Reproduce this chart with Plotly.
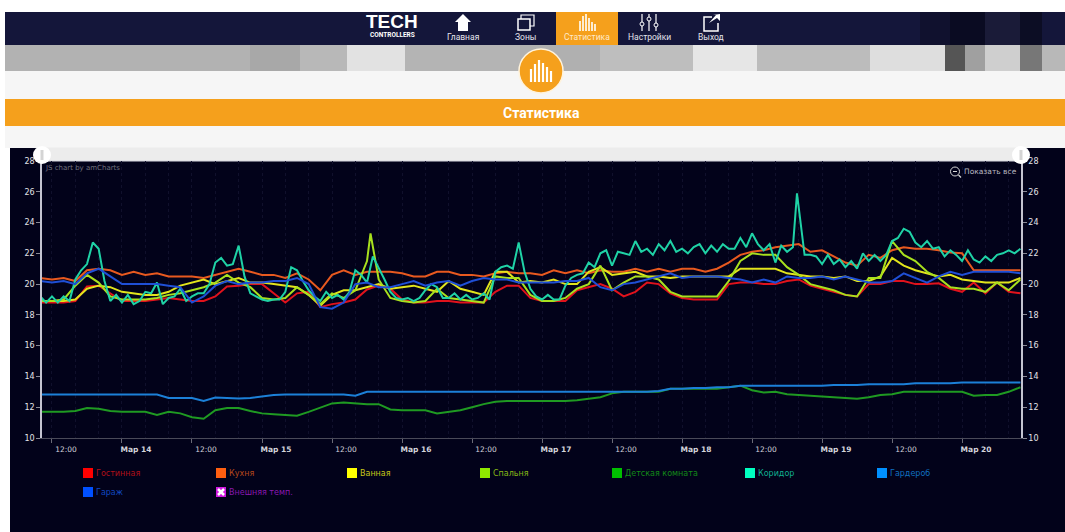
import pandas as pd
import plotly.graph_objects as go

W, H = 1065, 532
START = pd.Timestamp("2019-03-14")

HOURS_2H = list(range(-14, 155, 2))
HOURS_KORIDOR = [115.7 if h == 116 else h for h in range(-14, 155, 1)]
HOURS_SPALNYA = sorted(HOURS_2H + [42.6])

NAMES = ["Гостинная", "Кухня", "Ванная", "Спальня", "Детская комната", "Коридор", "Гардероб", "Гараж"]
OUTDOOR_NAME = "Внешняя темп."

GOSTINAYA = [
    18.8, 18.8, 18.8, 18.9, 19.85, 19.9, 19.4, 18.9, 18.9, 18.9,
    19.0, 19.1, 19.0, 18.9, 18.9, 19.2, 19.85, 19.9, 20.0, 20.0,
    19.4, 18.8, 19.4, 19.5, 18.5, 18.7, 18.8, 19.0, 19.65, 19.9,
    19.7, 19.0, 18.8, 18.8, 18.9, 18.9, 18.8, 18.8, 18.8, 19.5,
    19.9, 19.9, 19.1, 18.9, 18.9, 18.9, 19.6, 19.8, 20.0, 19.7,
    19.2, 19.5, 20.1, 20.0, 19.4, 19.1, 19.0, 19.0, 19.0, 20.0,
    20.1, 20.1, 20.0, 20.0, 20.2, 20.3, 19.9, 19.7, 19.5, 19.3,
    19.2, 20.0, 20.0, 20.2, 20.2, 20.0, 20.0, 20.05, 19.7, 19.5,
    20.1, 19.4, 20.1, 19.5, 19.4,
]
KUKHNYA = [
    20.4, 20.3, 20.4, 20.2, 20.9, 21.0, 20.9, 20.6, 20.8, 20.6,
    20.7, 20.5, 20.5, 20.5, 20.4, 20.6, 20.8, 21.0, 20.8, 20.6,
    20.6, 20.4, 20.7, 20.3, 19.6, 20.6, 20.9, 20.6, 20.8, 20.8,
    20.8, 20.7, 20.5, 20.5, 20.8, 20.8, 20.6, 20.6, 20.5, 20.7,
    20.8, 20.7, 20.7, 20.6, 20.9, 20.7, 20.9, 20.7, 20.9, 20.8,
    20.8, 21.0, 20.8, 21.0, 20.8, 21.0, 21.0, 20.8, 21.0, 21.4,
    21.9, 22.1, 22.2, 22.4, 22.5, 22.6, 22.1, 22.2, 21.8, 21.4,
    21.2, 21.9, 21.7, 22.2, 22.4, 22.3, 22.3, 22.2, 22.05, 22.0,
    20.9, 20.9, 20.9, 20.9, 20.9,
]
VANNAYA = [
    18.9, 18.9, 18.9, 19.0, 19.7, 19.9, 19.8, 19.5, 19.4, 19.3,
    19.3, 19.5, 19.9, 20.1, 20.3, 20.0, 20.2, 20.4, 20.1, 20.1,
    20.0, 19.9, 19.8, 19.3, 18.6, 19.3, 19.6, 19.6, 19.8, 20.0,
    19.7, 19.8, 19.9, 19.7, 19.5, 20.2, 19.7, 19.5, 19.3, 20.8,
    20.8, 20.1, 20.2, 20.1, 20.3, 20.0, 20.0, 20.8, 21.1, 20.6,
    20.7, 20.8, 20.5, 20.5, 20.4, 20.5, 20.5, 20.5, 20.5, 20.5,
    21.0, 21.0, 21.0, 21.0, 20.7, 20.6, 20.5, 20.5, 20.4, 20.5,
    20.2, 20.2, 20.5, 21.7, 21.2, 20.9, 20.7, 20.5, 20.6, 20.3,
    20.2, 20.1, 20.1, 20.1, 20.4,
]
SPALNYA = [
    18.9, 18.9, 19.0, 19.9, 20.6, 20.1, 19.2, 19.0, 19.0, 19.0,
    19.1, 19.3, 19.4, 19.6, 19.8, 20.1, 20.6, 20.1, 19.8, 19.1,
    19.0, 19.1, 19.8, 19.3, 18.7, 19.4, 19.1, 19.6, 21.5, 23.3,
    20.3, 19.1, 18.9, 18.8, 18.9, 19.7, 19.1, 19.0, 18.9, 18.8,
    20.5, 20.4, 20.4, 19.3, 18.9, 18.9, 19.1, 19.7, 20.0, 21.2,
    19.6, 20.1, 20.5, 20.5, 20.3, 19.5, 19.2, 19.2, 19.2, 19.2,
    20.2, 21.5, 22.0, 21.9, 21.9, 21.1, 20.6, 20.0, 19.8, 19.6,
    19.3, 19.2, 20.4, 20.4, 22.8, 21.9, 21.5, 20.8, 20.4, 19.8,
    19.7, 19.7, 19.5, 20.1, 19.6, 20.3,
]
DETSKAYA = [
    11.7, 11.7, 11.7, 11.75, 11.95, 11.9, 11.75, 11.7, 11.7, 11.7,
    11.5, 11.7, 11.6, 11.35, 11.25, 11.8, 11.95, 11.95, 11.75, 11.6,
    11.55, 11.5, 11.45, 11.7, 12.0, 12.25, 12.3, 12.25, 12.2, 12.2,
    11.85, 11.8, 11.8, 11.8, 11.6, 11.7, 11.8, 12.0, 12.2, 12.35,
    12.4, 12.4, 12.4, 12.4, 12.4, 12.4, 12.45, 12.55, 12.65, 12.9,
    13.0, 13.0, 13.0, 13.0, 13.2, 13.2, 13.2, 13.2, 13.2, 13.3,
    13.4, 13.1, 12.95, 13.0, 12.85, 12.8, 12.75, 12.7, 12.65, 12.6,
    12.55, 12.65, 12.8, 12.85, 13.0, 13.0, 13.0, 13.0, 13.0, 13.0,
    12.75, 12.8, 12.8, 13.0, 13.3,
]
KORIDOR = [
    19.2, 18.8, 19.2, 18.8, 19.2, 18.9, 20.3, 20.9, 21.3, 22.7,
    22.3, 20.2, 18.9, 19.3, 18.8, 19.3, 18.7, 18.9, 19.5, 19.4,
    20.1, 18.7, 19.1, 19.2, 19.7, 18.9, 19.2, 19.4, 19.4, 20.0,
    21.4, 21.7, 21.2, 21.3, 22.5, 20.5, 19.4, 19.2, 19.0, 18.9,
    19.0, 19.0, 19.5, 21.1, 20.9, 20.2, 19.6, 19.2, 18.9, 19.5,
    19.1, 19.3, 19.0, 19.5, 20.9, 20.6, 20.1, 21.8, 21.1, 20.3,
    19.5, 19.1, 19.0, 19.1, 18.9, 19.1, 19.6, 20.0, 19.8, 19.1,
    19.1, 19.4, 19.0, 19.3, 19.0, 19.1, 19.4, 19.0, 20.8, 21.1,
    21.2, 21.0, 22.7, 20.8, 19.7, 19.2, 19.0, 19.3, 19.0, 19.0,
    19.9, 20.4, 20.6, 20.7, 21.4, 21.1, 22.0, 22.2, 21.2, 22.1,
    22.0, 21.9, 22.8, 22.1, 22.3, 21.9, 22.6, 22.2, 22.8, 22.1,
    22.3, 22.0, 22.4, 22.6, 22.0, 22.5, 22.1, 22.6, 22.3, 22.3,
    23.0, 22.4, 23.3, 22.6, 22.2, 22.6, 21.4, 22.5, 22.1, 22.4,
    25.9, 21.9, 21.9, 21.8, 21.3, 21.9, 21.3, 21.6, 21.1, 21.5,
    21.0, 22.0, 21.5, 21.9, 21.5, 21.9, 22.8, 23.0, 23.6, 23.4,
    22.7, 22.4, 22.8, 22.3, 22.4, 21.8, 22.2, 21.9, 21.5, 22.2,
    21.6, 21.4, 21.8, 21.5, 21.9, 22.0, 22.2, 22.0, 22.3,
]
GARDEROB = [
    12.83, 12.83, 12.83, 12.83, 12.83, 12.83, 12.83, 12.83, 12.83, 12.83,
    12.83, 12.6, 12.6, 12.6, 12.4, 12.63, 12.6, 12.57, 12.6, 12.7,
    12.8, 12.83, 12.83, 12.83, 12.83, 12.83, 12.83, 12.75, 13.0, 13.0,
    13.0, 13.0, 13.0, 13.0, 13.0, 13.0, 13.0, 13.0, 13.0, 13.0,
    13.0, 13.0, 13.0, 13.0, 13.0, 13.0, 13.0, 13.0, 13.0, 13.0,
    13.0, 13.0, 13.0, 13.05, 13.2, 13.2, 13.25, 13.25, 13.3, 13.3,
    13.4, 13.4, 13.4, 13.4, 13.4, 13.4, 13.4, 13.4, 13.45, 13.45,
    13.45, 13.5, 13.5, 13.5, 13.5, 13.55, 13.55, 13.55, 13.55, 13.6,
    13.6, 13.6, 13.6, 13.6, 13.6,
]
GARAZH = [
    20.2, 20.1, 20.2, 20.0, 20.7, 21.0, 20.5, 20.0, 20.0, 20.0,
    20.0, 19.9, 19.8, 18.8, 19.2, 19.9, 20.2, 20.0, 20.1, 20.1,
    20.2, 20.2, 20.4, 20.0, 18.5, 18.4, 18.8, 20.0, 20.1, 19.8,
    19.8, 20.0, 20.2, 19.9, 20.1, 20.2, 19.9, 20.2, 20.4, 20.3,
    20.3, 20.1, 20.1, 20.1, 20.1, 20.2, 20.2, 20.4, 19.8, 19.6,
    20.0, 20.1, 20.3, 20.5, 20.7, 20.4, 20.5, 20.5, 20.5, 20.4,
    20.3, 20.1, 20.3, 20.1, 20.5, 20.4, 20.4, 20.5, 20.3, 20.5,
    20.3, 20.1, 20.1, 20.2, 20.7, 20.4, 20.1, 20.5, 20.8, 20.6,
    20.8, 20.8, 20.8, 20.8, 20.7,
]

LINE_COLORS = ["#e0121c", "#e8591f", "#e2e41c", "#a8e01e", "#1f9a22", "#1fd2a6", "#1c80d8", "#1f4fd6"]
SWATCH_COLORS = ["#ff0000", "#ff5f10", "#ffff00", "#8fe800", "#00c000", "#00ffc0", "#0090ff", "#0050ff"]
TEXT_COLORS = ["#b01018", "#b8481a", "#c8c818", "#86b818", "#128a18", "#10b090", "#1070c0", "#1048c0"]

Y_TICKS = [10, 12, 14, 16, 18, 20, 22, 24, 26, 28]
X_TICK_HOURS = [-12, 0, 12, 24, 36, 48, 60, 72, 84, 96, 108, 120, 132, 144]
X_TICK_TEXT = ["12:00", "<b>Мар 14</b>", "12:00", "<b>Мар 15</b>", "12:00", "<b>Мар 16</b>", "12:00",
               "<b>Мар 17</b>", "12:00", "<b>Мар 18</b>", "12:00", "<b>Мар 19</b>", "12:00", "<b>Мар 20</b>"]
NAV_LABELS = ["Главная", "Зоны", "Статистика", "Настройки", "Выход"]
NAV_X = [463, 525, 587, 649, 711]
BANNER = [(5, 250, "#b2b2b2"), (250, 300, "#a8a8a8"), (300, 347, "#b8b8b8"), (347, 405, "#e2e2e2"),
          (405, 520, "#b4b4b4"), (520, 600, "#b0b0b0"), (600, 693, "#bebebe"), (693, 757, "#e6e6e6"),
          (757, 870, "#bcbcbc"), (870, 945, "#dedede"), (945, 965, "#555555"), (965, 985, "#a0a0a0"),
          (985, 1020, "#cfcfcf"), (1020, 1042, "#777777"), (1042, 1065, "#b8b8b8")]
NAV_DARK = [(5, 920, "#14163a"), (920, 950, "#10112e"), (950, 985, "#0a0b22"), (985, 1020, "#1a1b38"),
            (1020, 1042, "#0c0d24"), (1042, 1065, "#14163a")]


def ts(h):
    return START + pd.Timedelta(hours=h)


def px(x):
    return x / W


def py(y):
    return 1 - y / H


shapes = []
ann = []


def rect(x0, y0, x1, y1, color, layer="below", line=None):
    shapes.append(dict(type="rect", xref="paper", yref="paper", x0=px(x0), x1=px(x1), y0=py(y0), y1=py(y1),
                       fillcolor=color, line=dict(width=0) if line is None else line, layer=layer))


def circle(cx, cy, r, color, layer="below", line=None):
    shapes.append(dict(type="circle", xref="paper", yref="paper", x0=px(cx - r), x1=px(cx + r),
                       y0=py(cy + r), y1=py(cy - r), fillcolor=color,
                       line=dict(width=0) if line is None else line, layer=layer))


def poly(points, fill=None, stroke=None, width=1, close=True, layer="above"):
    d = "M" + " L".join(f"{px(a):.5f},{py(b):.5f}" for a, b in points) + (" Z" if close else "")
    shapes.append(dict(type="path", xref="paper", yref="paper", path=d, layer=layer,
                       fillcolor=fill if fill else "rgba(0,0,0,0)",
                       line=dict(color=stroke, width=width) if stroke else dict(width=0)))


def text(x, y, s, size, color, family="Roboto", anchor="center"):
    ann.append(dict(xref="paper", yref="paper", x=px(x), y=py(y), text=s, showarrow=False, xanchor=anchor,
                    yanchor="middle", font=dict(size=size, color=color, family=family), align="left",
                    borderpad=0, borderwidth=0))


# page furniture
rect(0, 0, W, H, "#ffffff")
rect(5, 71, W, 148, "#f6f6f6")
for a, b, c in NAV_DARK:
    rect(a, 12, b, 45, c)
for a, b, c in BANNER:
    rect(a, 45, b, 71, c)
rect(5, 99, W, 126, "#f5a01c")
rect(10, 148, W, H, "#02021a")
rect(42, 147.5, 1021, 161, "#ececec")
rect(42, 160.4, 1021, 161.6, "#d8d8e0")
rect(556, 12, 618, 45, "#f5a01c")

text(392, 21, "<b>TECH</b>", 19, "#ffffff", "Liberation Sans")
text(392, 35, "<b>CONTROLLERS</b>", 6.5, "#ffffff", "Roboto")
for name, x in zip(NAV_LABELS, NAV_X):
    text(x, 37, name, 8.5, "#e4e4ec" if name != "Статистика" else "#ffe9c8")
text(541, 113, "<b>Статистика</b>", 14, "#ffffff")

# nav icons
poly([(455, 22), (463, 14), (471, 22), (468, 22), (468, 31), (458, 31), (458, 22)], fill="#ffffff")
poly([(518, 19), (530, 19), (530, 30), (518, 30)], stroke="#ffffff", width=1.5)
poly([(521, 19), (521, 15), (534, 15), (534, 26), (530, 26)], stroke="#ffffff", width=1.2, close=False)
for x, top in zip([580, 583, 586, 589, 592, 595], [21, 16, 14, 18, 22, 24]):
    rect(x - 0.8, top, x + 0.8, 31, "#ffffff", layer="above")
for x, knob in zip([642, 649, 656], [24, 19, 25]):
    rect(x - 0.6, 14, x + 0.6, 31, "#ffffff", layer="above")
    circle(x, knob, 2, "#14163a", layer="above", line=dict(color="#ffffff", width=1))
poly([(712, 17), (704, 17), (704, 31), (718, 31), (718, 23)], stroke="#ffffff", width=1.5, close=False)
poly([(709, 23), (716, 15), (713, 15), (720, 14), (720, 21), (717, 18)], fill="#ffffff")

# orange badge
circle(541, 71, 22, "#f5a01c", line=dict(color="#fff3dc", width=1.5))
for x, top in zip([531, 535, 539, 543, 547, 551], [69, 64, 60, 63, 67, 71]):
    rect(x - 1.1, top, x + 1.1, 82, "#ffffff", layer="above")

# legend
rows = [(83, 473), (216, 473), (347, 473), (480, 473), (612, 473), (745, 473), (877, 473), (83, 492)]
for name, sw, col, (x, y) in zip(NAMES, SWATCH_COLORS, TEXT_COLORS, rows):
    rect(x, y - 5, x + 10, y + 5, sw)
    text(x + 13, y, name, 8, col, "DejaVu Sans", "left")
rect(216, 487, 226, 497, "#d018e0")
poly([(218, 489), (224, 495)], stroke="#ffffff", width=2.5, close=False)
poly([(224, 489), (218, 495)], stroke="#ffffff", width=2.5, close=False)
text(229, 492, OUTDOOR_NAME, 8, "#8a18b0", "DejaVu Sans", "left")

# chart overlays
text(45, 168.5, "JS chart by amCharts", 7, "#70707c", "DejaVu Sans", "left")
text(964, 171.5, "Показать все", 7.5, "#b8b8c0", "DejaVu Sans", "left")
circle(955, 171.5, 4.5, "rgba(0,0,0,0)", layer="above", line=dict(color="#d8d8d8", width=1))
poly([(953, 171.5), (957, 171.5)], stroke="#d8d8d8", width=1, close=False)
poly([(958.5, 175), (961, 177.5)], stroke="#d8d8d8", width=1.2, close=False)
for cx in (42, 1021):
    circle(cx, 155, 9, "#ffffff", layer="above")
    rect(cx - 1.5, 150, cx + 1.5, 160, "#d4d4d4", layer="above")

fig = go.Figure()
series = [
    (NAMES[0], HOURS_2H, GOSTINAYA),
    (NAMES[1], HOURS_2H, KUKHNYA),
    (NAMES[2], HOURS_2H, VANNAYA),
    (NAMES[3], HOURS_SPALNYA, SPALNYA),
    (NAMES[4], HOURS_2H, DETSKAYA),
    (NAMES[5], HOURS_KORIDOR, KORIDOR),
    (NAMES[7], HOURS_2H, GARAZH),
    (NAMES[6], HOURS_2H, GARDEROB),
]
for name, hours, values in series:
    color = LINE_COLORS[NAMES.index(name)]
    fig.add_trace(go.Scatter(
        x=[ts(h) for h in hours], y=values, name=name, mode="lines",
        line=dict(color=color, width=2),
        yaxis="y2" if name == NAMES[6] else "y",
    ))

axis_y = dict(range=[10, 28], tickvals=Y_TICKS, showgrid=False, zeroline=False, showline=True, automargin=False,
              linecolor="#c4c4d0", linewidth=1.5, ticks="outside", ticklen=4, tickcolor="#8a8a96",
              tickfont=dict(size=8, color="#e2e2e8", family="DejaVu Sans"),
              domain=[py(438), py(161)])

fig.update_layout(
    width=W, height=H, autosize=False,
    margin=dict(l=0, r=0, t=0, b=0, pad=0),
    paper_bgcolor="#ffffff", plot_bgcolor="rgba(0,0,0,0)",
    showlegend=False, shapes=shapes, annotations=ann,
    xaxis=dict(
        type="date", domain=[px(42), px(1021)], range=[ts(-13.71), ts(154.1)], automargin=False,
        tickmode="array", tickvals=[ts(h) for h in X_TICK_HOURS], ticktext=X_TICK_TEXT,
        ticklabelshift=14, ticks="outside", ticklen=4, tickcolor="#6a6a76",
        tickfont=dict(size=7.5, color="#d4d4dc", family="DejaVu Sans"),
        showgrid=False, zeroline=False, showline=True, linecolor="#4a4a58", linewidth=1,
        minor=dict(dtick=4 * 3600000, showgrid=True, gridcolor="#10102c", griddash="dot", gridwidth=1),
    ),
    yaxis=dict(side="left", **axis_y),
    yaxis2=dict(side="right", overlaying="y", anchor="x", **{k: v for k, v in axis_y.items() if k != "domain"}),
)

fig.write_html("out.html", config={"displayModeBar": False},
               post_script="document.body.style.margin='0';document.documentElement.style.overflow='hidden';")
